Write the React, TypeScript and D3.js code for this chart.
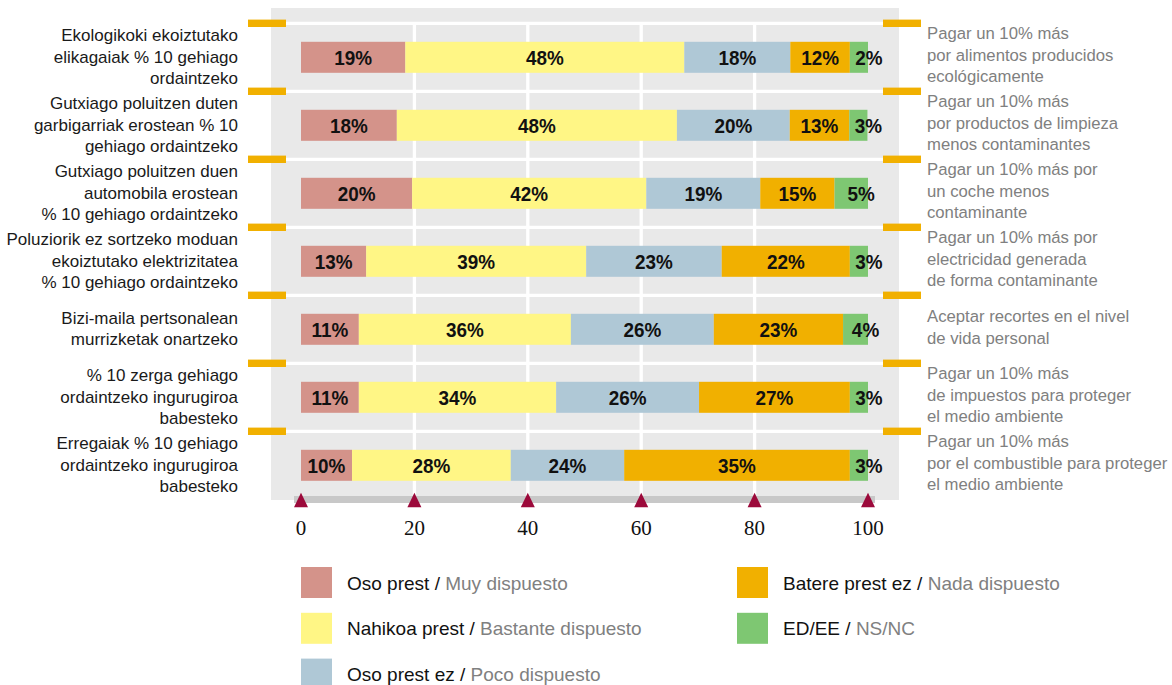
import React from 'react';
import * as d3 from 'd3';

// row texts (basque left, spanish right)
const questionsEu: string[][] = [
  ['Ekologikoki ekoiztutako', 'elikagaiak % 10 gehiago', 'ordaintzeko'],
  ['Gutxiago poluitzen duten', 'garbigarriak erostean % 10', 'gehiago ordaintzeko'],
  ['Gutxiago poluitzen duen', 'automobila erostean', '% 10 gehiago ordaintzeko'],
  ['Poluziorik ez sortzeko moduan', 'ekoiztutako elektrizitatea', '% 10 gehiago ordaintzeko'],
  ['Bizi-maila pertsonalean', 'murrizketak onartzeko'],
  ['% 10 zerga gehiago', 'ordaintzeko ingurugiroa', 'babesteko'],
  ['Erregaiak % 10 gehiago', 'ordaintzeko ingurugiroa', 'babesteko'],
];

const questionsEs: string[][] = [
  ['Pagar un 10% más', 'por alimentos producidos', 'ecológicamente'],
  ['Pagar un 10% más', 'por productos de limpieza', 'menos contaminantes'],
  ['Pagar un 10% más por', 'un coche menos', 'contaminante'],
  ['Pagar un 10% más por', 'electricidad generada', 'de forma contaminante'],
  ['Aceptar recortes en el nivel', 'de vida personal'],
  ['Pagar un 10% más', 'de impuestos para proteger', 'el medio ambiente'],
  ['Pagar un 10% más', 'por el combustible para proteger', 'el medio ambiente'],
];

// series
const seriesKeys = ['muy', 'bastante', 'poco', 'nada', 'nsnc'];
const seriesEu = ['Oso prest', 'Nahikoa prest', 'Oso prest ez', 'Batere prest ez', 'ED/EE'];
const seriesEs = ['Muy dispuesto', 'Bastante dispuesto', 'Poco dispuesto', 'Nada dispuesto', 'NS/NC'];
const seriesColors = ['#d4938a', '#fff685', '#afc8d6', '#f1b000', '#7ec772'];

// bar lengths as drawn
const muy = [18.4, 16.9, 19.6, 11.5, 10.2, 10.2, 9.0];
const bastante = [49.2, 49.4, 41.3, 38.8, 37.4, 34.8, 28.0];
const poco = [18.7, 19.9, 20.1, 23.9, 25.2, 25.2, 20.0];
const nada = [10.5, 10.5, 13.1, 22.6, 22.8, 26.6, 39.8];
const nsnc = [3.2, 3.2, 5.9, 3.2, 4.4, 3.2, 3.2];

// printed percentages
const muyLbl = [19, 18, 20, 13, 11, 11, 10];
const bastanteLbl = [48, 48, 42, 39, 36, 34, 28];
const pocoLbl = [18, 20, 19, 23, 26, 26, 24];
const nadaLbl = [12, 13, 15, 22, 23, 27, 35];
const nsncLbl = [2, 3, 5, 3, 4, 3, 3];

const xTicks = [0, 20, 40, 60, 80, 100];

const W = 1172;
const H = 685;

export default function App() {
  const rows = questionsEu.map((_, i) => i);
  const table = rows.map(i => ({
    row: i,
    muy: muy[i], bastante: bastante[i], poco: poco[i], nada: nada[i], nsnc: nsnc[i],
  }));
  const labels = [muyLbl, bastanteLbl, pocoLbl, nadaLbl, nsncLbl];
  const stacked = d3.stack<any>().keys(seriesKeys)(table);

  const x = d3.scaleLinear().domain([0, 100]).range([301, 868]);
  const y = d3.scaleBand<number>()
    .domain(rows)
    .range([23.3, 499.3])
    .paddingInner(0.544)
    .paddingOuter(0.272);
  const step = y.step();
  const bw = y.bandwidth();
  const rowTop = (i: number) => (y(i) as number) - (step * y.paddingInner()) / 2;
  const rowMid = (i: number) => (y(i) as number) + bw / 2;

  const panel = { x0: 271, x1: 899, y0: 8, y1: 500 };
  const lineH = 21.4;

  return (
    <div style={{ position: 'absolute', left: 0, top: 0 }}>
      <svg width={W} height={H} style={{ display: 'block', fontFamily: '"Liberation Sans", Arial, sans-serif' }}>
        {/* background panel */}
        <rect x={panel.x0} y={panel.y0} width={panel.x1 - panel.x0} height={panel.y1 - panel.y0} fill="#e9e9e9" />

        {/* vertical grid */}
        {xTicks.filter(t => t > 0 && t < 100).map(t => (
          <line key={'v' + t} x1={x(t)} x2={x(t)} y1={rowTop(0)} y2={panel.y1 - 4} stroke="#fff" strokeWidth={3.3} />
        ))}
        {/* horizontal separators + orange marks */}
        {rows.map(i => (
          <g key={'h' + i}>
            <line x1={panel.x0} x2={panel.x1} y1={rowTop(i)} y2={rowTop(i)} stroke="#fff" strokeWidth={3.3} />
            <rect x={248} y={rowTop(i) - 3.7} width={38} height={7.4} fill="#f1b000" />
            <rect x={883} y={rowTop(i) - 3.7} width={38} height={7.4} fill="#f1b000" />
          </g>
        ))}

        {/* bars */}
        {stacked.map((s, si) => (
          <g key={s.key} fill={seriesColors[si]}>
            {s.map((d, i) => (
              <rect key={i} x={x(d[0])} y={y(i)} width={x(d[1]) - x(d[0])} height={bw} />
            ))}
          </g>
        ))}
        {stacked.map((s, si) => (
          <g key={'l' + s.key} fontWeight="bold" fontSize={21} fill="#111" textAnchor="middle">
            {s.map((d, i) => {
              const cx = (x(d[0]) + x(d[1])) / 2 + (si === seriesKeys.length - 1 ? 10 : 0);
              return (
                <text key={i} transform={`translate(${cx},${rowMid(i)}) scale(0.9,1)`} dy="0.36em">
                  {labels[si][i]}%
                </text>
              );
            })}
          </g>
        ))}

        {/* axis */}
        <rect x={x(0) - 7} y={496} width={x(100) - x(0) + 14} height={7} fill="#c8c8c8" />
        {xTicks.map(t => (
          <g key={'t' + t}>
            <path d={`M${x(t) - 7},507.3L${x(t)},492.8L${x(t) + 7},507.3Z`} fill="#9c0a3b" />
            <text x={x(t)} y={535} textAnchor="middle" fontFamily='"Liberation Serif", "Times New Roman", serif' fontSize={21} fill="#111">
              {t}
            </text>
          </g>
        ))}

        {/* row labels */}
        {questionsEu.map((lines, i) => (
          <text key={'eu' + i} textAnchor="end" fontSize={17} fill="#1a1a1a">
            {lines.map((ln, k) => (
              <tspan key={k} x={238} y={rowMid(i) + 5.3 + (k - (lines.length - 1) / 2) * lineH}>{ln}</tspan>
            ))}
          </text>
        ))}
        {questionsEs.map((lines, i) => (
          <text key={'es' + i} fontSize={16.7} fill="#808080">
            {lines.map((ln, k) => (
              <tspan key={k} x={927} y={rowMid(i) + 3.5 + (k - (lines.length - 1) / 2) * lineH}>{ln}</tspan>
            ))}
          </text>
        ))}

        {/* legend */}
        {seriesKeys.map((k, si) => {
          const col = si < 3 ? 0 : 1;
          const r = si < 3 ? si : si - 3;
          const lx = col === 0 ? 301 : 737;
          const ly = 567 + r * 45.8;
          return (
            <g key={'lg' + k}>
              <rect x={lx} y={ly} width={31} height={31} fill={seriesColors[si]} />
              <text x={lx + 46} y={ly + 22.5} fontSize={19} fill="#111">
                {seriesEu[si]} / <tspan fill="#808080">{seriesEs[si]}</tspan>
              </text>
            </g>
          );
        })}
      </svg>
    </div>
  );
}
